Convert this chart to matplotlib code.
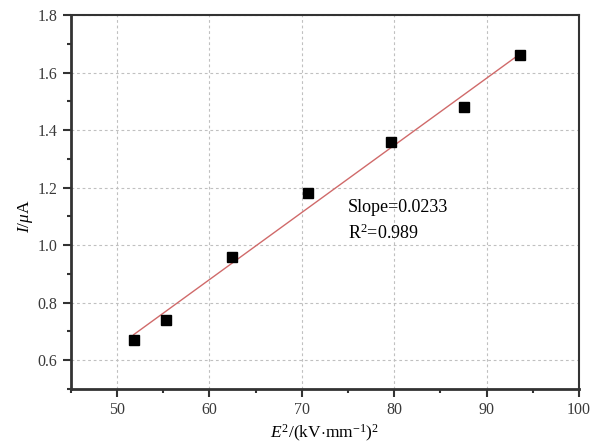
import matplotlib
matplotlib.use("Agg")
import matplotlib.pyplot as plt
import numpy as np
from matplotlib.ticker import MultipleLocator

plt.rcParams['font.family'] = ['Liberation Serif', 'DejaVu Serif']
plt.rcParams['mathtext.fontset'] = 'custom'
plt.rcParams['mathtext.rm'] = 'Liberation Serif'
plt.rcParams['mathtext.it'] = 'Liberation Serif:italic'

# E^2 values and current
e2 = [51.8, 55.3, 62.4, 70.7, 79.6, 87.5, 93.6]
current = [0.67, 0.74, 0.96, 1.18, 1.36, 1.48, 1.66]

x = np.array(e2)
y = np.array(current)
k, b = np.polyfit(x, y, 1)

fig = plt.figure(figsize=(6, 4.45), dpi=100)
ax = fig.add_axes([0.118, 0.126, 0.847, 0.840])

ax.grid(True, color='#c0c0c0', linestyle=(0, (2.5, 2.5)), linewidth=0.8)
ax.set_axisbelow(True)

xs = np.array([x.min(), x.max()])
ax.plot(xs, k * xs + b, color='#d06a6a', linewidth=1.0)
ax.plot(x, y, 's', color='black', markersize=6.5)

ax.set_xlim(45, 100)
ax.set_ylim(0.5, 1.8)
ax.xaxis.set_major_locator(MultipleLocator(10))
ax.xaxis.set_minor_locator(MultipleLocator(5))
ax.yaxis.set_major_locator(MultipleLocator(0.2))
ax.yaxis.set_minor_locator(MultipleLocator(0.1))
ax.tick_params(which='major', direction='out', length=6, width=1.5, labelsize=11.5, colors='#333333')
ax.tick_params(which='minor', direction='out', length=3, width=1.5, colors='#333333')
ax.tick_params(labelcolor='#3a3a3a')

for side in ['left', 'bottom']:
    ax.spines[side].set_linewidth(2)
    ax.spines[side].set_color('#333333')
for side in ['top', 'right']:
    ax.spines[side].set_linewidth(1.5)
    ax.spines[side].set_color('#333333')

ax.set_xlabel(r'$E^2$/(kV$\cdot$mm$^{\mathregular{-1}}$)$^2$', fontsize=12.5)
ax.set_ylabel(r'$I$/$\mu$A', fontsize=12.5)
ax.xaxis.set_label_coords(0.5, -0.09)
ax.yaxis.set_label_coords(-0.07, 0.463)

ax.text(75.0, 1.13, 'Slope=0.0233', fontsize=13, va='center')
ax.text(75.0, 1.04, r'R$^2$=0.989', fontsize=13, va='center')

fig.savefig('out.png', dpi=100)
